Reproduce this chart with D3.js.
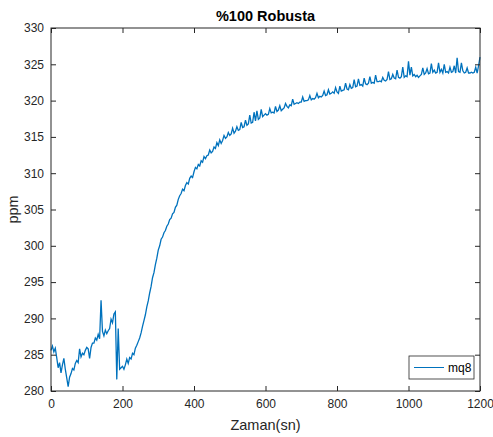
<!DOCTYPE html>
<html><head><meta charset="utf-8">
<script src="https://cdn.jsdelivr.net/npm/d3@7"></script>
<style>body{margin:0;background:#fff}svg text{font-family:"Liberation Sans",Arial,sans-serif}</style>
</head><body><svg id="c" width="493" height="437"></svg>
<script>
const title = "%100 Robusta";
const xLabel = "Zaman(sn)";
const yLabel = "ppm";
const seriesName = "mq8";
const xTicks = [0,200,400,600,800,1000,1200];
const yTicks = [280,285,290,295,300,305,310,315,320,325,330];
const sampleStep = 4; // seconds between samples
const ppm = [
285.6,286.2,285.4,285.9,284.6,283.2,283.9,282.5,283.6,284.5,
283.0,281.8,280.6,281.9,282.4,283.1,282.9,283.8,284.2,283.9,
285.8,284.7,285.2,285.0,285.6,286.0,285.8,284.5,286.0,286.6,
286.6,287.3,287.0,287.8,287.2,292.5,288.2,287.6,288.4,287.9,
288.3,288.6,289.9,289.4,290.6,290.9,281.6,288.6,283.0,283.2,
283.4,283.0,283.6,284.4,283.8,284.6,284.4,285.2,285.0,285.9,
286.3,286.8,287.3,288.0,288.9,289.7,290.5,291.6,292.4,293.5,
294.4,295.6,296.3,297.4,298.3,299.4,300.0,300.9,301.2,301.8,
302.1,302.7,303.0,303.6,303.8,304.4,304.6,305.3,305.6,306.4,
306.9,307.2,307.8,307.6,308.3,308.7,308.5,309.3,309.6,309.4,
310.2,310.8,310.6,311.2,311.0,311.7,311.5,312.3,312.0,312.4,
312.5,313.2,312.8,313.0,313.6,313.4,314.2,313.8,314.6,314.1,
314.5,315.2,314.8,315.0,315.6,315.2,315.4,316.2,315.5,315.8,
316.4,315.9,316.0,317.0,316.3,316.4,317.3,316.6,316.8,318.0,
316.9,317.0,318.4,317.2,318.6,317.4,317.6,318.8,317.8,318.0,
318.2,318.0,318.1,318.9,318.3,318.4,318.3,319.2,318.5,318.7,
319.3,318.6,318.8,319.0,319.6,319.2,319.0,319.4,319.3,320.2,
319.5,319.6,319.7,319.6,319.8,319.8,320.5,319.9,320.0,320.0,
320.1,320.7,320.1,320.3,320.2,320.4,321.0,320.4,320.6,320.5,
320.7,321.3,320.7,320.8,321.5,320.9,321.0,321.2,321.0,321.8,
321.2,321.0,322.0,321.3,321.4,321.5,322.4,321.6,321.5,322.2,
321.7,321.8,322.9,321.9,322.0,323.0,322.1,322.2,322.0,323.1,
322.3,322.2,322.4,323.3,322.4,322.5,322.4,323.5,322.6,322.6,
322.7,322.6,323.2,322.8,322.7,322.9,324.0,322.9,323.0,323.6,
323.1,323.0,324.2,323.2,323.1,323.3,324.6,323.2,323.4,323.3,
325.4,323.5,324.6,323.4,323.6,323.3,323.5,323.2,323.4,323.6,
324.5,323.6,323.8,324.4,323.7,323.8,325.1,323.9,324.2,323.8,
323.9,325.2,323.9,324.3,323.8,325.0,323.9,324.0,323.8,324.6,
323.9,324.0,324.8,323.8,325.9,324.0,323.9,325.2,324.1,323.8,
323.9,324.5,323.8,323.8,323.9,323.8,323.9,324.6,323.8,324.8,
326.0
];
const data = ppm.map((v,i)=>({t:i*sampleStep, v}));

const W=493,H=437, m={l:51,r:13,t:28,b:46};
const svg=d3.select("#c");
const x=d3.scaleLinear().domain([0,1200]).range([m.l,W-m.r]);
const y=d3.scaleLinear().domain([280,330]).range([H-m.b,m.t]);
const ac="#262626";

svg.append("rect").attr("x",m.l).attr("y",m.t).attr("width",W-m.l-m.r).attr("height",H-m.t-m.b).attr("fill","#fff");

const g=svg.append("g");
g.append("path").datum(data).attr("fill","none").attr("stroke","#0072BD").attr("stroke-width",1.3)
 .attr("stroke-linejoin","miter")
 .attr("d",d3.line().x(d=>x(d.t)).y(d=>y(d.v)));

function styleAxis(sel){
  sel.select(".domain").remove();
  sel.selectAll("line").attr("stroke",ac);
  sel.selectAll("text").attr("fill",ac).attr("font-size","12px");
}
// bottom
svg.append("g").attr("transform",`translate(0,${H-m.b})`)
 .call(d3.axisBottom(x).tickValues(xTicks).tickSizeInner(-5).tickSizeOuter(0).tickPadding(8).tickFormat(d3.format("d")))
 .call(styleAxis);
// top
svg.append("g").attr("transform",`translate(0,${m.t})`)
 .call(d3.axisTop(x).tickValues(xTicks).tickSizeInner(-5).tickSizeOuter(0).tickFormat(""))
 .call(styleAxis);
// left
svg.append("g").attr("transform",`translate(${m.l},0)`)
 .call(d3.axisLeft(y).tickValues(yTicks).tickSizeInner(-5).tickSizeOuter(0).tickPadding(7).tickFormat(d3.format("d")))
 .call(styleAxis);
// right
svg.append("g").attr("transform",`translate(${W-m.r},0)`)
 .call(d3.axisRight(y).tickValues(yTicks).tickSizeInner(-5).tickSizeOuter(0).tickFormat(""))
 .call(styleAxis);

svg.append("rect").attr("x",m.l).attr("y",m.t).attr("width",W-m.l-m.r).attr("height",H-m.t-m.b)
 .attr("fill","none").attr("stroke",ac).attr("stroke-width",1);

svg.append("text").attr("x",(m.l+W-m.r)/2).attr("y",21).attr("text-anchor","middle")
 .attr("font-size","14.5px").attr("font-weight","bold").attr("fill","#000").text(title);
svg.append("text").attr("x",(m.l+W-m.r)/2).attr("y",430).attr("text-anchor","middle")
 .attr("font-size","14.5px").attr("fill",ac).text(xLabel);
svg.append("text").attr("transform",`translate(18,${(m.t+H-m.b)/2}) rotate(-90)`).attr("text-anchor","middle")
 .attr("font-size","14.5px").attr("fill",ac).text(yLabel);

// legend
const lg=svg.append("g").attr("transform","translate(409,356)");
lg.append("rect").attr("width",65).attr("height",23).attr("fill","#fff").attr("stroke",ac).attr("stroke-width",0.8);
lg.append("line").attr("x1",5).attr("x2",35).attr("y1",11.5).attr("y2",11.5).attr("stroke","#0072BD").attr("stroke-width",1);
lg.append("text").attr("x",39).attr("y",16).attr("font-size","12px").attr("fill","#000").text(seriesName);
</script></body></html>
